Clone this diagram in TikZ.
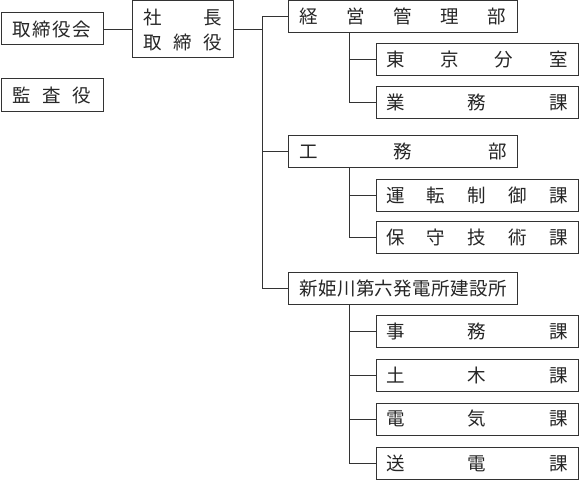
\documentclass[tikz,border=0pt]{standalone}
\usepackage{fontspec}
\setmainfont{Noto Sans CJK JP}
\newcommand{\spr}[2]{\makebox[#1][s]{#2}}
\begin{document}
\begin{tikzpicture}[x=1pt,y=-1pt,
  box/.style={draw=black!80,line width=1pt,inner sep=0pt,text=black!85,font=\fontsize{18.5}{22}\selectfont},
  dept/.style={box,minimum width=229pt,minimum height=32pt},
  sect/.style={box,minimum width=202pt,minimum height=32pt},
  conn/.style={draw=black!80,line width=0.9pt}]
\useasboundingbox (0,0) rectangle (580,484);
\fill[white] (0,0) rectangle (580,484);
% left
\node[box,minimum width=102pt,minimum height=32pt] (kai) at (52,29) {\spr{79pt}{取\hfill 締\hfill 役\hfill 会}};
\node[box,minimum width=102pt,minimum height=32pt] (kansa) at (52,95) {\spr{79pt}{監\hfill 査\hfill 役}};
\node[box,minimum width=101pt,minimum height=57pt,align=center,font=\fontsize{18.5}{25}\selectfont] (shacho) at (182.5,29.5) {\spr{79pt}{社\hfill 長}\\\spr{79pt}{取\hfill 締\hfill 役}};
% departments
\node[dept] (keiei) at (402.5,16.5) {\spr{207pt}{経\hfill 営\hfill 管\hfill 理\hfill 部}};
\node[dept] (koumu) at (403,151) {\spr{207pt}{工\hfill 務\hfill 部}};
\node[dept] (shin) at (403,288.5) {\spr{207pt}{新\hfill 姫\hfill 川\hfill 第\hfill 六\hfill 発\hfill 電\hfill 所\hfill 建\hfill 設\hfill 所}};
% sections
\node[sect] (tokyo) at (477,59.5) {\spr{182pt}{東\hfill 京\hfill 分\hfill 室}};
\node[sect] (gyomu) at (477,102.5) {\spr{182pt}{業\hfill 務\hfill 課}};
\node[sect] (unten) at (477,195) {\spr{182pt}{運\hfill 転\hfill 制\hfill 御\hfill 課}};
\node[sect] (hoshu) at (477,237.5) {\spr{182pt}{保\hfill 守\hfill 技\hfill 術\hfill 課}};
\node[sect] (jimu) at (477,331) {\spr{182pt}{事\hfill 務\hfill 課}};
\node[sect] (doboku) at (477,375) {\spr{182pt}{土\hfill 木\hfill 課}};
\node[sect] (denki) at (477,419) {\spr{182pt}{電\hfill 気\hfill 課}};
\node[sect] (soden) at (477,463) {\spr{182pt}{送\hfill 電\hfill 課}};
% coordinates
\coordinate (trunk) at (262,0);
\coordinate (br) at (349,0);
% connectors
\draw[conn] (kai.east) -- (kai.east -| shacho.west);
\draw[conn] (shacho.east) -- (shacho.east -| trunk);
\draw[conn] (keiei.west) -- (keiei.west -| trunk) |- (shin.west);
\draw[conn] (koumu.west) -- (koumu.west -| trunk);
\draw[conn] (keiei.south -| br) |- (gyomu.west);
\draw[conn] (tokyo.west) -- (tokyo.west -| br);
\draw[conn] (koumu.south -| br) |- (hoshu.west);
\draw[conn] (unten.west) -- (unten.west -| br);
\draw[conn] (shin.south -| br) |- (soden.west);
\draw[conn] (jimu.west) -- (jimu.west -| br);
\draw[conn] (doboku.west) -- (doboku.west -| br);
\draw[conn] (denki.west) -- (denki.west -| br);
\end{tikzpicture}
\end{document}
